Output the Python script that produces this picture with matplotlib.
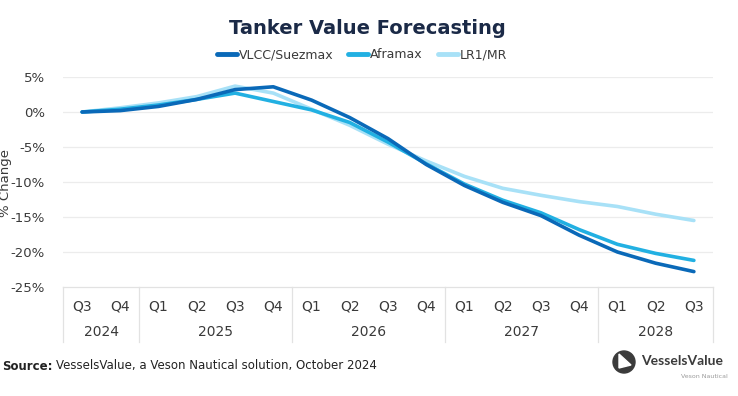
import matplotlib.pyplot as plt
from matplotlib.patches import Circle, Polygon

# quarters from Q3 2024 to Q3 2028
quarters = ["Q3", "Q4", "Q1", "Q2", "Q3", "Q4", "Q1", "Q2", "Q3", "Q4",
            "Q1", "Q2", "Q3", "Q4", "Q1", "Q2", "Q3"]
years = ["2024", "2025", "2026", "2027", "2028"]
year_counts = [2, 4, 4, 4, 3]

vlcc = [0.0, 0.2, 0.8, 1.8, 3.2, 3.6, 1.7, -0.8, -3.8, -7.5,
        -10.5, -12.9, -14.8, -17.6, -20.0, -21.6, -22.8]
aframax = [0.0, 0.4, 1.0, 1.8, 2.7, 1.5, 0.3, -1.5, -4.3, -7.4,
           -10.3, -12.6, -14.4, -16.8, -18.9, -20.2, -21.2]
lr1mr = [0.0, 0.6, 1.3, 2.2, 3.7, 2.7, 0.4, -1.9, -4.6, -7.0,
         -9.2, -10.9, -11.9, -12.8, -13.5, -14.6, -15.5]

C_VLCC = "#0a69b8"
C_AFRA = "#22b0e2"
C_LR1 = "#a8e1f7"
GRID = "#ececec"
TXT = "#3a3a3a"

plt.rcParams['font.family'] = ['DejaVu Sans']

fig = plt.figure(figsize=(7.38, 3.96), dpi=100)
ax = fig.add_axes([63/738, 1-287/396, 650/738, 210/396])

x = list(range(len(quarters)))
ax.plot(x, lr1mr, color=C_LR1, lw=2.6, solid_capstyle='round', label="LR1/MR", zorder=3)
ax.plot(x, aframax, color=C_AFRA, lw=2.6, solid_capstyle='round', label="Aframax", zorder=4)
ax.plot(x, vlcc, color=C_VLCC, lw=2.6, solid_capstyle='round', label="VLCC/Suezmax", zorder=5)

ax.set_xlim(-0.5, len(quarters) - 0.5)
ax.set_ylim(-25, 5)
ax.set_yticks([5, 0, -5, -10, -15, -20, -25])
ax.set_yticklabels(["5%", "0%", "-5%", "-10%", "-15%", "-20%", "-25%"])
for yv in [5, 0, -5, -10, -15, -20]:
    ax.axhline(yv, color=GRID, lw=0.9, zorder=1)

for s in ["top", "right", "left"]:
    ax.spines[s].set_visible(False)
ax.spines["bottom"].set_color("#e2e2e2")
ax.spines["bottom"].set_linewidth(0.9)

ax.tick_params(axis='y', length=0, pad=13, labelsize=9.5, labelcolor=TXT)
ax.set_xticks(x)
ax.set_xticklabels(quarters)
ax.tick_params(axis='x', length=0, pad=9, labelsize=10, labelcolor=TXT)

# year row and separators of the category table
tr = ax.get_xaxis_transform()
bounds = [-0.5]
for n in year_counts:
    bounds.append(bounds[-1] + n)
for b in bounds:
    ax.plot([b, b], [0, -0.262], transform=tr, color="#e2e2e2", lw=0.9, clip_on=False)
for i, yr in enumerate(years):
    ax.text((bounds[i] + bounds[i + 1]) / 2, -0.214, yr, transform=tr,
            ha='center', va='center', fontsize=10, color=TXT)

fig.text(6/738, 1-183/396, "% Change", rotation=90, ha='center', va='center',
         fontsize=9.5, color=TXT)

fig.text(367/738, 1-28/396, "Tanker Value Forecasting", ha='center', va='center',
         fontsize=14, fontweight='bold', color="#1b2a47")

handles, labels = ax.get_legend_handles_labels()
order = [2, 1, 0]
leg = fig.legend([handles[i] for i in order], [labels[i] for i in order],
                 loc='center', bbox_to_anchor=(362/738, 1-55/396), ncol=3,
                 frameon=False, fontsize=9, handlelength=1.6, handletextpad=0.15,
                 columnspacing=1.2, labelcolor=TXT)
for h in leg.legend_handles:
    h.set_linewidth(3.5)

# source line
r = fig.canvas.get_renderer()
t1 = fig.text(2/738, 1-366/396, "Source:", fontsize=8.5, fontweight='bold',
              color="#222222", ha='left', va='center')
bb = t1.get_window_extent(renderer=r)
fig.text((bb.x1 + 3)/738, 1-366/396, "VesselsValue, a Veson Nautical solution, October 2024",
         fontsize=8.5, color="#222222", ha='left', va='center')

# logo
fig.patches.append(Circle((624, 396-362), 11, transform=None, color="#3b3b3b"))
fig.patches.append(Polygon([(619, 396-354), (619, 396-368), (631, 396-365)],
                           closed=True, transform=None, color="white"))
fig.text(641/738, 1-361/396, "VesselsValue", ha='left', va='center',
         fontsize=10, fontweight='bold', color="#3b3b3b",
         family=['Lato', 'DejaVu Sans'])
fig.text(728/738, 1-377/396, "Veson Nautical", ha='right', va='center',
         fontsize=4.5, color="#9a9a9a")

fig.savefig("out.png", dpi=100)
